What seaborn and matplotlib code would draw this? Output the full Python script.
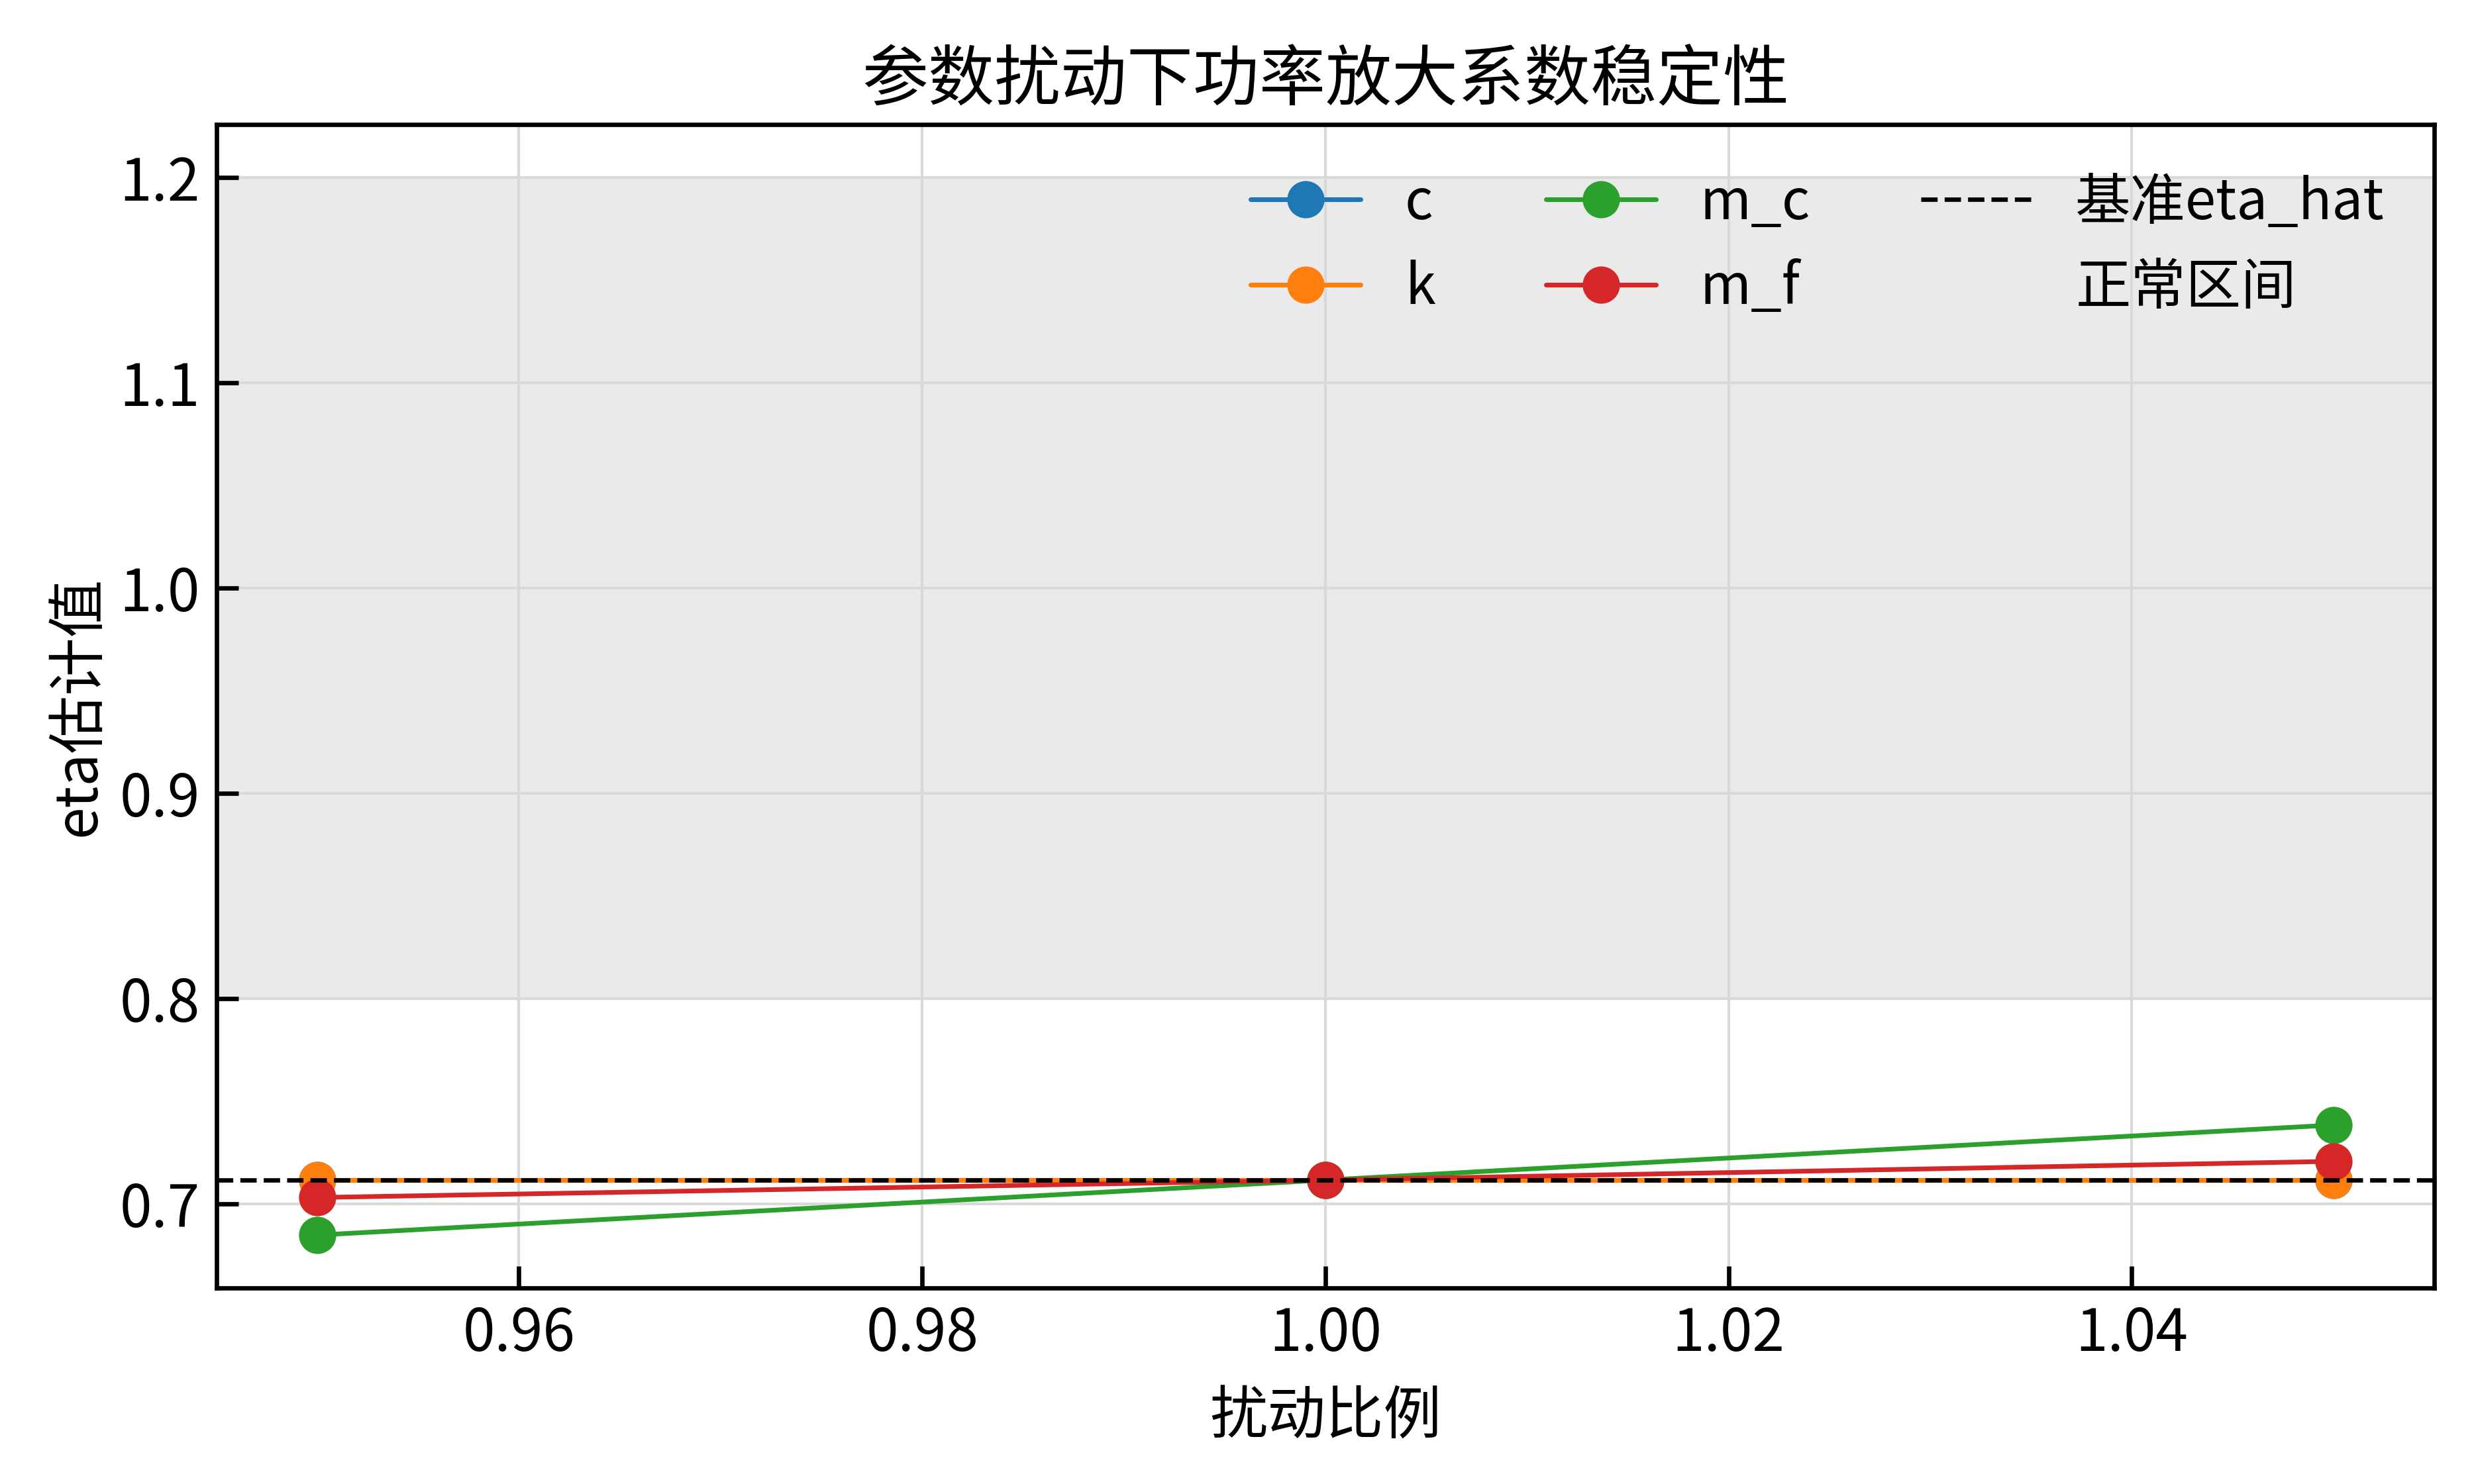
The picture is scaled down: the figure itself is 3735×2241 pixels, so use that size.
import pandas as pd
import matplotlib
matplotlib.use('Agg')
import matplotlib.pyplot as plt
import seaborn as sns

# data
ratios = [0.95, 1.00, 1.05]
eta_c = [0.7117, 0.7117, 0.7117]
eta_k = [0.7117, 0.7117, 0.7117]
eta_mc = [0.6849, 0.7117, 0.7385]
eta_mf = [0.7032, 0.7117, 0.7208]
eta_hat = 0.7117
normal_low, normal_high = 0.8, 1.2

series_names = ['c', 'k', 'm_c', 'm_f']
series_values = [eta_c, eta_k, eta_mc, eta_mf]
colors = ['#1f77b4', '#ff7f0e', '#2ca02c', '#d62728']

sns.set_theme(style='whitegrid', rc={
    'axes.edgecolor': 'black',
    'axes.linewidth': 1.6,
    'grid.color': '#d9d9d9',
    'grid.linewidth': 1.0,
    'xtick.direction': 'in',
    'ytick.direction': 'in',
    'xtick.bottom': True,
    'ytick.left': True,
    'xtick.major.size': 8,
    'ytick.major.size': 8,
    'xtick.major.width': 1.6,
    'ytick.major.width': 1.6,
    'xtick.major.pad': 6,
    'ytick.major.pad': 6,
    'xtick.color': 'black',
    'ytick.color': 'black',
    'text.color': 'black',
    'axes.labelcolor': 'black',
})
plt.rcParams['font.family'] = ['Noto Sans CJK SC', 'DejaVu Sans']
plt.rcParams['axes.unicode_minus'] = False

fig = plt.figure(figsize=(12.45, 7.47), dpi=300)
ax = fig.add_axes([0.0875, 0.1321, 0.8964, 0.784])

for name, vals, col in zip(series_names, series_values, colors):
    df = pd.DataFrame({'ratio': ratios, 'eta': vals})
    sns.lineplot(data=df, x='ratio', y='eta', ax=ax, color=col, label=name,
                 marker='o', markersize=13.5, markeredgewidth=0,
                 linewidth=1.7, legend=False)

ax.axhline(eta_hat, color='black', linestyle='--', linewidth=1.6, label='基准eta_hat')
ax.axhspan(normal_low, normal_high, color='#eaeaea', zorder=0, label='正常区间')

ax.set_title('参数扰动下功率放大系数稳定性', fontsize=24, pad=9)
ax.set_xlabel('扰动比例', fontsize=21, labelpad=8.5)
ax.set_ylabel('eta估计值', fontsize=21)
ax.tick_params(labelsize=21)

ax.legend(loc='upper right', ncol=3, frameon=False, fontsize=20)

fig.savefig('out.png', dpi=300)
